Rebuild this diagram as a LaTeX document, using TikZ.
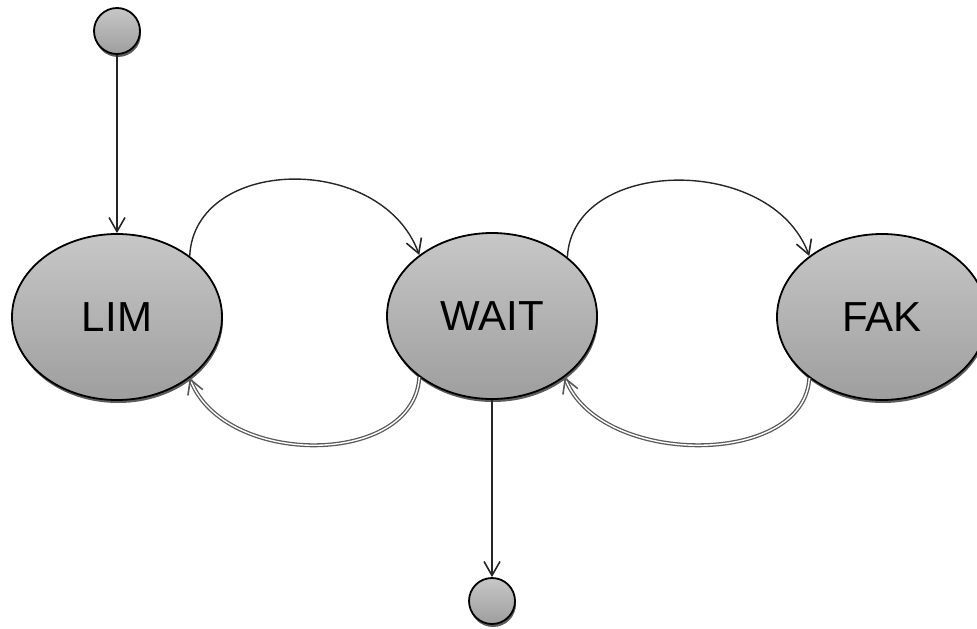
\documentclass[tikz,border=0pt]{standalone}
\usepackage{fontspec}
\setmainfont{Liberation Sans}
\usetikzlibrary{arrows.meta,shapes.geometric,shadows}
\begin{document}
\begin{tikzpicture}[x=1pt,y=-1pt,
  shade/.style={top color=black!22, bottom color=black!38,
    drop shadow={shadow xshift=1pt, shadow yshift=-3pt, fill=black!80, opacity=0.8}},
  state/.style={ellipse, shade, draw=black, line width=1.8pt, minimum width=210pt,
    minimum height=166pt, inner sep=0pt, font=\fontsize{42}{42}\selectfont},
  pseudo/.style={circle, shade, draw=black, line width=1.8pt, minimum size=46pt, inner sep=0pt},
  tip/.style={-{Straight Barb[length=14pt,width=16pt,line width=1.6pt]}},
  fwd/.style={tip, draw=black!85, line width=1.4pt},
  back/.style={tip, draw=black!65, double=white, double distance=1.4pt, line width=1.3pt},
]
\useasboundingbox (0,0) rectangle (977,629);
\node[pseudo] (start) at (117,31) {};
\node[state] (lim) at (117,317) {LIM};
\node[state] (wait) at (492,316) {WAIT};
\node[state] (fak) at (882,317) {FAK};
\node[pseudo] (end) at (492,601) {};
\draw[fwd] (start) -- (lim);
\draw[fwd] (lim.40) .. controls +(5,-100) and +(-38,-103) .. (wait.140);
\draw[fwd] (wait.38) .. controls +(5,-100) and +(-38,-103) .. (fak.140);
\draw[back] (wait.220) .. controls +(-5,90) and +(35,90) .. (lim.320);
\draw[back] (fak.220) .. controls +(-5,90) and +(35,90) .. (wait.320);
\draw[fwd] (wait) -- (end);
\end{tikzpicture}
\end{document}
